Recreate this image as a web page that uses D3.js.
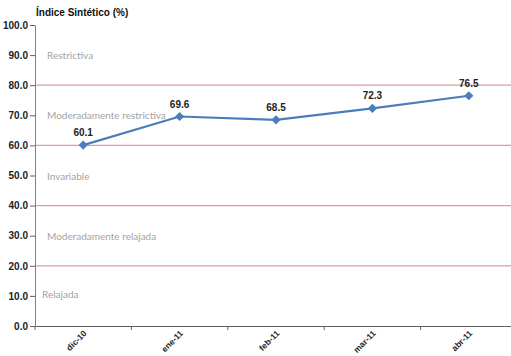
<!DOCTYPE html>
<html><head><meta charset="utf-8">
<script src="https://cdn.jsdelivr.net/npm/d3@7"></script>
<style>body{margin:0;background:#fff}svg{display:block}</style>
</head><body>
<script>
const categories = ["dic-10","ene-11","feb-11","mar-11","abr-11"];
const values = [60.1, 69.6, 68.5, 72.3, 76.5];
const yTicks = [0,10,20,30,40,50,60,70,80,90,100];
const thresholds = [20,40,60,80];
const zoneLabels = ["Restrictiva","Moderadamente restrictiva","Invariable","Moderadamente relajada","Relajada"];
const zoneLabelValues = [90, 70, 50, 30, 10.5];

(function(){
const W=511,H=356;
const svg=d3.select("body").append("svg").attr("width",W).attr("height",H);
const mLeft=35, mRight=517, mTop=25, mBottom=326;
const font="'Liberation Sans Narrow','Arial Narrow',Arial,sans-serif";
const x=d3.scaleBand().domain(categories).range([mLeft,mRight]);
const y=d3.scaleLinear().domain([0,100]).range([mBottom,mTop]);

svg.selectAll(".th").data(thresholds).enter().append("line")
  .attr("x1",mLeft).attr("x2",W).attr("y1",d=>y(d)).attr("y2",d=>y(d))
  .attr("stroke","#e39a9a").attr("stroke-width",1.2);

svg.selectAll(".zl").data(zoneLabels).enter().append("text")
  .attr("x",(d,i)=>i===4?42:47).attr("y",(d,i)=>y(zoneLabelValues[i])+4)
  .attr("fill","#a3a3a3").attr("font-family","Lato, 'Open Sans', sans-serif").attr("font-size",10)
  .text(d=>d);

const ya=svg.append("g").attr("transform",`translate(${mLeft},0)`)
  .call(d3.axisLeft(y).tickValues(yTicks).tickFormat(d3.format(".1f")).tickSize(5).tickSizeOuter(0));
ya.select(".domain").attr("stroke","#808080");
ya.selectAll(".tick line").attr("stroke","#606060");
ya.selectAll("text").attr("font-family",font).attr("font-size",10).attr("font-weight","bold").attr("fill","#222").attr("x",-7);

const xa=svg.append("g").attr("transform",`translate(0,${mBottom})`)
  .call(d3.axisBottom(x).tickSize(0).tickSizeOuter(0));
xa.select(".domain").attr("stroke","#606060");
xa.selectAll(".tick line").remove();
xa.selectAll(".tick text").attr("font-family",font).attr("font-size",8.5).attr("font-weight","bold").attr("fill","#222")
  .attr("text-anchor","end").attr("dy",0).attr("y",0)
  .attr("transform","translate(4,8) rotate(-45)");
svg.selectAll(".bt").data(categories).enter().append("line")
  .attr("x1",d=>x(d)).attr("x2",d=>x(d)).attr("y1",mBottom).attr("y2",mBottom+4)
  .attr("stroke","#606060");

const line=d3.line().x((d,i)=>x(categories[i])+x.bandwidth()/2).y(d=>y(d));
svg.append("path").datum(values).attr("d",line).attr("fill","none").attr("stroke","#4a7ebb").attr("stroke-width",2.2);
svg.selectAll(".pt").data(values).enter().append("path")
  .attr("d",d3.symbol().type(d3.symbolSquare).size(42))
  .attr("transform",(d,i)=>`translate(${x(categories[i])+x.bandwidth()/2},${y(d)}) rotate(45)`)
  .attr("fill","#4a7ebb");
svg.selectAll(".dl").data(values).enter().append("text")
  .attr("x",(d,i)=>x(categories[i])+x.bandwidth()/2).attr("y",d=>y(d)-9)
  .attr("text-anchor","middle").attr("font-family",font).attr("font-size",10).attr("font-weight","bold").attr("fill","#222")
  .text(d=>d.toFixed(1));

svg.append("text").attr("x",36).attr("y",16).attr("font-family",font).attr("font-size",10).attr("font-weight","bold").attr("fill","#111")
  .text("Índice Sintético (%)");
})();
</script>
</body></html>
